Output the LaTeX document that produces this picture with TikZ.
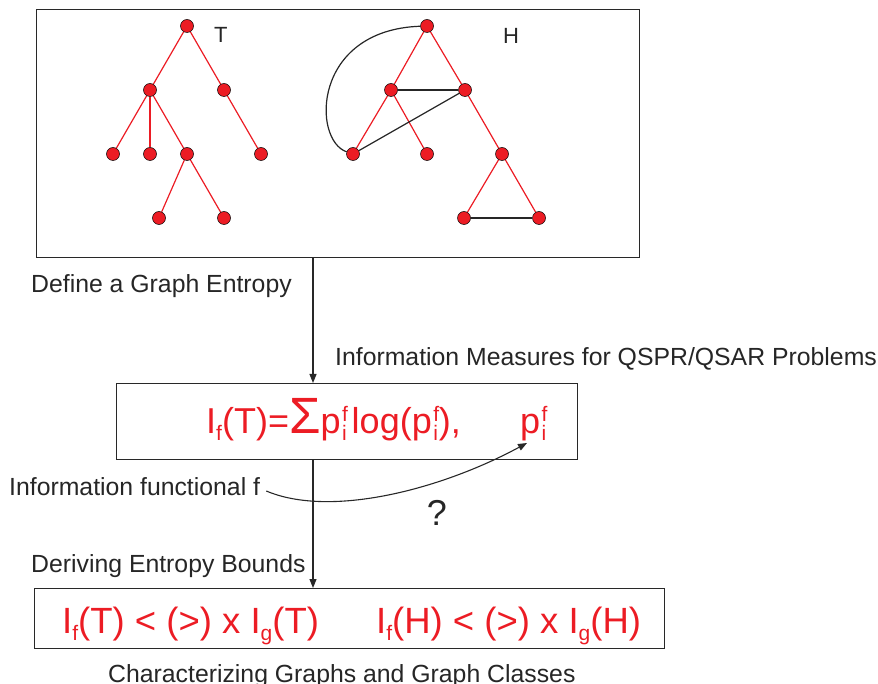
\documentclass[tikz,border=0pt]{standalone}
\usepackage{fontspec}
\setmainfont{Liberation Sans}
\usetikzlibrary{arrows.meta,calc,backgrounds}
\definecolor{gred}{RGB}{236,28,36}
\definecolor{gline}{RGB}{40,40,40}
\newcommand\mIf{I\raisebox{-7pt}{\fontsize{21}{21}\selectfont f}}
\newcommand\pfi{p\hspace{1.5pt}\rlap{\raisebox{11.5pt}{\fontsize{21}{21}\selectfont f}}\raisebox{-7pt}{\fontsize{21}{21}\selectfont i}\hspace{5pt}}
\newcommand\pfiend{p\hspace{1.5pt}\rlap{\raisebox{11.5pt}{\fontsize{21}{21}\selectfont f}}\raisebox{-7pt}{\fontsize{21}{21}\selectfont i}}
\newcommand\bigS{{\fontsize{51}{51}\selectfont Σ}}
\newcommand\bI[1]{I\raisebox{-7pt}{\fontsize{21}{21}\selectfont #1}}
\begin{document}
\begin{tikzpicture}[x=1pt,y=-1pt,
  vtx/.style={circle,fill=gred,draw=black,line width=0.5pt,minimum size=13pt,inner sep=0pt},
  redge/.style={gred,line width=1.2pt},
  bedge/.style={black!85,line width=1.2pt},
  frame/.style={draw=gline,line width=1.3pt,rectangle,inner sep=0pt,anchor=north west},
  lbl/.style={anchor=base west,inner sep=0pt,text=black!85,font=\fontsize{24.8}{29}\selectfont},
  rtxt/.style={anchor=base west,inner sep=0pt,text=gred},
  arr/.style={gline,line width=1.1pt,-{Triangle[length=9pt,width=7pt]}}]
\useasboundingbox (0,0) rectangle (878,684);
% boxes
\node[frame,minimum width=603pt,minimum height=248pt] (top) at (36,9) {};
\node[frame,minimum width=461pt,minimum height=76pt] (mid) at (116,383) {};
\node[frame,minimum width=630pt,minimum height=60pt] (bot) at (34,588) {};
% tree T
\node[vtx] (t1) at (187,26) {};
\node[vtx] (t2) at (150,90) {};
\node[vtx] (t3) at (224,90) {};
\node[vtx] (t4) at (113,154) {};
\node[vtx] (t5) at (150,154) {};
\node[vtx] (t6) at (187,154) {};
\node[vtx] (t7) at (261,154) {};
\node[vtx] (t8) at (159,218) {};
\node[vtx] (t9) at (224,218) {};
% graph H
\node[vtx] (h1) at (427,26) {};
\node[vtx] (h2) at (391,90) {};
\node[vtx] (h3) at (465,90) {};
\node[vtx] (h4) at (353,154) {};
\node[vtx] (h5) at (427,154) {};
\node[vtx] (h6) at (502,154) {};
\node[vtx] (h7) at (464,218) {};
\node[vtx] (h8) at (539,218) {};
\begin{scope}[on background layer]
\foreach \a/\b in {t1/t2,t1/t3,t2/t4,t2/t5,t2/t6,t3/t7,t6/t8,t6/t9}
  \draw[redge] (\a) -- (\b);
\foreach \a/\b in {h1/h2,h1/h3,h2/h4,h2/h5,h3/h6,h6/h7,h6/h8}
  \draw[redge] (\a) -- (\b);
\foreach \a/\b in {h2/h3,h4/h3,h7/h8}
  \draw[bedge] (\a) -- (\b);
\draw[bedge] (h1) .. controls (312,30) and (312,140) .. (h4);
\end{scope}
% labels
\node[lbl,font=\fontsize{22}{26}\selectfont] (lT) at (214,43) {T};
\node[lbl,font=\fontsize{22}{26}\selectfont] (lH) at (503,44) {H};
\node[lbl] (def) at (31,292.5) {Define a Graph Entropy};
\node[lbl] (qspr) at (335,366) {Information Measures for QSPR/QSAR Problems};
\node[lbl] (infof) at (9,495) {Information functional f};
\node[lbl] (der) at (31,572) {Deriving Entropy Bounds};
\node[lbl] (char) at (108,682) {Characterizing Graphs and Graph Classes};
\node[lbl,anchor=base,font=\fontsize{36}{40}\selectfont] (q) at (437,525) {?};
% formulas
\node[rtxt,font=\fontsize{36}{40}\selectfont] (form) at (206,433) {\mIf(T)=\bigS\pfi log(\pfiend\hspace{1pt}),};
\node[rtxt,font=\fontsize{36}{40}\selectfont] (pf) at (520,433) {\pfiend};
\node[rtxt,font=\fontsize{36.5}{40}\selectfont] (bl) at (62,633) {\bI{f}(T) < (>) x \bI{g}(T)};
\node[rtxt,font=\fontsize{36.5}{40}\selectfont] (br) at (376,633) {\bI{f}(H) < (>) x \bI{g}(H)};
% arrows
\coordinate (ax) at (313,0);
\draw[arr] (top.south -| ax) -- (mid.north -| ax);
\draw[arr] (mid.south -| ax) -- (bot.north -| ax);
\coordinate (fstart) at ($(infof.base east)+(6,-4)$);
\coordinate (pftip) at ($(pf.base west)+(7,10)$);
\draw[arr] (fstart) .. controls (330,518) and (440,490) .. (pftip);
\end{tikzpicture}
\end{document}
